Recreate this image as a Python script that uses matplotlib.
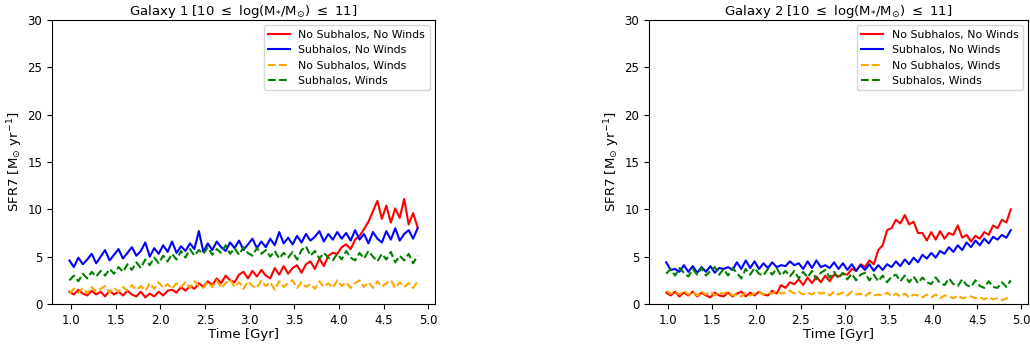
import numpy as np
import matplotlib.pyplot as plt

# time grid (Gyr), 79 samples
time = np.linspace(0.98, 4.88, 79)

# ---- Galaxy 1
g1_nosub_nowind = [
    1.3, 1.0, 1.5, 1.1, 0.9, 1.4, 1.0, 1.3, 0.8, 1.4,
    1.0, 1.3, 0.9, 1.4, 1.0, 0.8, 1.3, 0.7, 1.1, 0.8,
    1.3, 0.9, 1.4, 1.5, 1.2, 1.8, 1.4, 1.9, 1.6, 2.2,
    1.8, 2.4, 2.0, 2.7, 2.2, 3.0, 2.5, 2.3, 3.1, 3.4,
    2.7, 3.5, 2.9, 3.6, 3.0, 2.7, 3.8, 3.1, 4.0, 3.2,
    3.8, 4.1, 3.3, 4.2, 4.5, 3.7, 4.8, 4.0, 5.1, 5.4,
    5.3, 6.0, 6.3, 5.8, 6.8, 7.2, 7.9, 8.7, 9.8, 10.9,
    9.0, 10.4, 8.6, 10.1, 9.1, 11.1, 8.4, 9.6, 8.1,
]
g1_sub_nowind = [
    4.6, 3.9, 4.9, 4.2, 4.7, 5.3, 4.3, 5.0, 5.7, 4.6,
    5.2, 5.8, 4.8, 5.4, 6.0, 5.1, 5.6, 6.5, 5.0, 5.9,
    5.3, 6.2, 5.5, 6.6, 5.4, 6.1, 5.6, 6.4, 5.8, 7.7,
    5.5, 6.4, 5.7, 6.6, 6.0, 5.6, 6.5, 5.9, 6.7, 5.7,
    6.3, 6.9, 5.9, 6.6, 6.0, 6.9, 6.2, 7.6, 6.4, 7.0,
    6.3, 7.2, 6.5, 7.4, 6.7, 7.1, 7.7, 6.6, 7.4, 6.8,
    7.6, 6.9, 7.5, 6.7, 7.8, 6.8, 7.4, 6.4, 7.6, 6.9,
    6.5, 7.7, 6.8, 8.0, 6.7, 7.4, 7.8, 6.9, 8.0,
]
g1_nosub_wind = [
    1.1, 1.6, 1.2, 1.7, 1.1, 1.8, 1.3, 1.6, 1.9, 1.2,
    1.7, 1.3, 1.8, 1.4, 2.0, 1.5, 1.9, 1.4, 2.2, 1.6,
    2.3, 1.7, 2.1, 1.6, 2.2, 1.8, 2.3, 1.7, 2.4, 1.9,
    1.7, 2.3, 1.8, 2.5, 1.7, 2.2, 2.6, 1.8, 2.3, 1.6,
    2.4, 1.9, 1.7, 2.5, 1.9, 2.3, 1.5, 2.4, 1.8, 2.2,
    2.5, 1.7, 2.3, 1.8, 2.1, 1.6, 2.4, 1.8, 2.2, 1.7,
    2.5, 1.9, 2.3, 1.7, 2.2, 2.5, 1.8, 2.3, 1.7, 2.4,
    1.8, 2.2, 2.5, 1.7, 2.3, 1.8, 2.2, 1.7, 2.4,
]
g1_sub_wind = [
    2.5, 3.0, 2.4, 3.2, 2.7, 3.4, 2.9, 3.5, 3.0, 3.7,
    3.2, 3.9, 3.4, 4.2, 3.6, 4.4, 3.8, 4.7, 4.1, 4.9,
    4.3, 5.1, 4.5, 5.3, 4.7, 5.6, 4.9, 5.8, 5.1, 5.7,
    5.3, 6.0, 5.2, 5.8, 5.4, 6.2, 5.3, 5.9, 5.2, 6.0,
    5.4, 5.1, 5.9, 5.3, 5.7, 5.0, 5.6, 4.8, 5.4, 4.9,
    5.5, 4.7, 5.7, 6.1, 5.1, 5.6, 4.8, 5.4, 4.9, 4.6,
    5.3, 4.7, 5.6, 4.9, 4.6, 5.4, 4.8, 5.6, 5.0, 4.5,
    5.3, 4.7, 5.5, 4.4, 5.1, 4.6, 5.3, 4.3, 5.1,
]

# ---- Galaxy 2
g2_nosub_nowind = [
    1.2, 0.9, 1.3, 0.8, 1.2, 0.9, 1.3, 0.8, 1.2, 0.9,
    0.7, 1.2, 0.9, 0.8, 1.2, 0.8, 1.1, 1.3, 0.8, 1.2,
    0.9, 1.3, 1.0, 0.9, 1.4, 1.1, 2.0, 1.7, 2.3, 2.1,
    2.6, 2.0, 2.8, 2.2, 2.9, 2.3, 3.0, 2.4, 3.1, 2.9,
    3.2, 3.1, 3.7, 3.5, 4.2, 3.9, 4.6, 4.2, 5.7, 6.2,
    7.8, 8.0, 8.9, 8.5, 9.4, 8.4, 8.7, 7.5, 7.5, 6.7,
    7.6, 6.8, 7.7, 6.9, 7.5, 7.3, 8.3, 7.0, 7.3, 6.6,
    7.2, 6.9, 7.6, 7.3, 8.3, 8.0, 8.9, 8.6, 10.0,
]
g2_sub_nowind = [
    4.4, 3.6, 3.7, 3.4, 4.1, 3.4, 4.0, 3.3, 3.9, 3.4,
    4.0, 3.3, 3.8, 3.7, 3.9, 3.6, 4.4, 3.7, 4.6, 3.8,
    4.5, 3.7, 4.3, 3.8, 4.4, 3.9, 4.1, 4.0, 4.5, 4.1,
    4.3, 3.7, 4.5, 3.8, 4.6, 3.9, 4.1, 3.8, 4.4, 3.7,
    4.3, 3.6, 4.2, 3.5, 4.1, 3.6, 4.2, 3.5, 4.1, 3.6,
    4.2, 3.9, 4.5, 4.0, 4.7, 4.2, 4.9, 4.4, 5.2, 4.8,
    5.4, 4.9, 5.6, 5.3, 6.0, 5.5, 6.2, 5.7, 6.5, 6.0,
    6.7, 6.2, 6.9, 6.4, 7.1, 6.8, 7.3, 7.0, 7.8,
]
g2_nosub_wind = [
    1.4, 1.1, 1.3, 1.0, 1.4, 1.0, 1.3, 0.9, 1.3, 1.0,
    1.3, 0.9, 1.2, 1.1, 1.3, 0.9, 1.0, 0.8, 1.2, 0.9,
    1.1, 1.3, 1.0, 1.2, 1.1, 1.4, 1.1, 1.2, 1.4, 1.1,
    1.3, 1.0, 1.2, 1.0, 1.3, 1.1, 1.2, 0.9, 1.3, 1.0,
    1.2, 0.9, 1.3, 1.0, 1.1, 0.8, 1.2, 0.9, 1.0, 0.9,
    1.2, 0.8, 1.1, 0.8, 1.1, 0.7, 1.0, 0.9, 0.7, 1.0,
    0.7, 1.0, 0.6, 0.9, 0.8, 0.6, 0.9, 0.6, 0.7, 0.8,
    0.6, 0.7, 0.5, 0.7, 0.5, 0.6, 0.4, 0.6, 0.5,
]
g2_sub_wind = [
    3.2, 3.7, 3.0, 3.8, 3.3, 2.9, 3.7, 3.1, 3.8, 3.0,
    3.5, 3.9, 3.1, 3.7, 3.0, 3.8, 3.3, 2.7, 3.7, 3.1,
    3.8, 3.2, 3.0, 3.7, 3.1, 3.8, 3.0, 3.5, 2.9, 3.5,
    2.7, 3.4, 2.8, 3.5, 2.6, 3.3, 3.6, 2.8, 3.4, 2.7,
    3.3, 2.6, 3.2, 2.5, 3.1, 3.3, 2.5, 3.1, 2.4, 3.0,
    2.3, 2.9, 3.1, 2.4, 3.0, 2.3, 2.9, 2.2, 2.8, 2.3,
    2.1, 2.8, 2.2, 2.0, 2.7, 2.1, 1.9, 2.6, 2.0, 1.8,
    2.5, 1.9, 1.7, 2.4, 1.8, 1.7, 2.3, 1.8, 2.5,
]

galaxies = [
    ("Galaxy 1", g1_nosub_nowind, g1_sub_nowind, g1_nosub_wind, g1_sub_wind),
    ("Galaxy 2", g2_nosub_nowind, g2_sub_nowind, g2_nosub_wind, g2_sub_wind),
]

fig = plt.figure(figsize=(10.30, 3.46), dpi=100)
axes = [
    fig.add_axes([52 / 1030, 42 / 346, 383 / 1030, 284 / 346]),
    fig.add_axes([649 / 1030, 42 / 346, 379 / 1030, 284 / 346]),
]

for ax, (name, a, b, c, d) in zip(axes, galaxies):
    ax.plot(time, a, "-", color="red", lw=1.5, label="No Subhalos, No Winds")
    ax.plot(time, b, "-", color="blue", lw=1.5, label="Subhalos, No Winds")
    ax.plot(time, c, "--", color="orange", lw=1.5, label="No Subhalos, Winds")
    ax.plot(time, d, "--", color="green", lw=1.5, label="Subhalos, Winds")

    ax.set_ylim(0, 30)
    ax.set_xticks([1.0, 1.5, 2.0, 2.5, 3.0, 3.5, 4.0, 4.5, 5.0])
    ax.tick_params(labelsize=8.5)
    ax.set_xlabel("Time [Gyr]", fontsize=9.5, labelpad=1)
    ax.set_ylabel(r"SFR7 [M$_{\odot}$ yr$^{-1}$]", fontsize=9.5, labelpad=2)
    ax.set_title(name + r" [10 $\leq$ log(M$_{*}$/M$_{\odot}$) $\leq$ 11]",
                 fontsize=9.5, pad=3)
    ax.legend(loc="upper right", fontsize=7.8)

fig.savefig("out.png", dpi=100)
